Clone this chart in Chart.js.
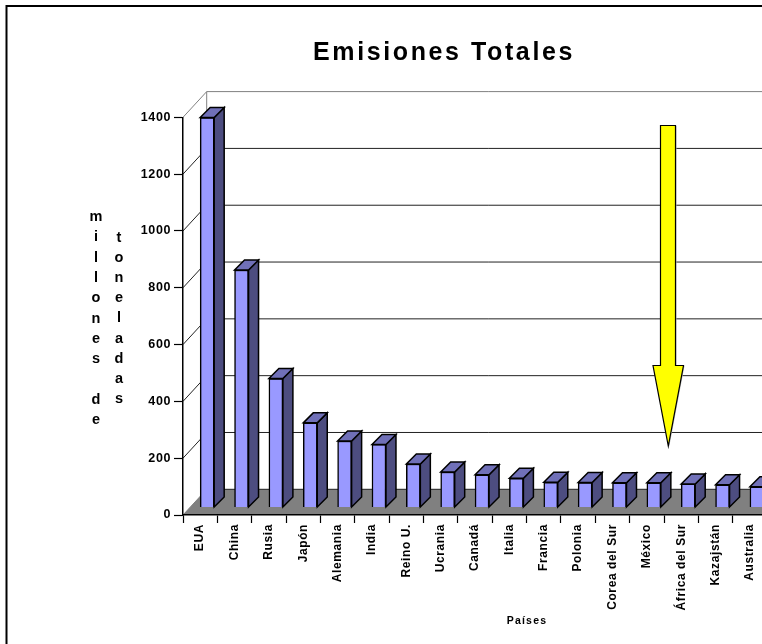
<!DOCTYPE html>
<html>
  <head>
    <title>Emisiones Totales</title>
    <script src="https://cdn.jsdelivr.net/npm/chart.js"></script>
    <style>
      html, body { margin: 0; padding: 0; background: #fff; overflow: hidden; }
      #wrap { width: 762px; height: 644px; overflow: hidden; }
      canvas { display: block; }
    </style>
  </head>
  <body>
    <div id="wrap"><canvas id="myChart" width="770" height="644"></canvas></div>
    <script>
      var paises = ["EUA", "China", "Rusia", "Japón", "Alemania", "India", "Reino U.", "Ucrania", "Canadá",
        "Italia", "Francia", "Polonia", "Corea del Sur", "México", "África del Sur", "Kazajstán", "Australia"];
      var emisiones = [1373, 836, 454, 298, 234, 222, 153, 125, 115, 103, 89, 88, 87, 87, 83, 80, 73];
      var yTicks = [0, 200, 400, 600, 800, 1000, 1200, 1400];
      var yTop = ["m", "i", "l", "l", "o", "n", "e", "s", "", "d", "e"];
      var yBottom = ["t", "o", "n", "e", "l", "a", "d", "a", "s"];

      var FONT = '"Liberation Sans", Arial, sans-serif';
      // wall depth, bar offset from the front plane, and the bar's own depth
      var wallX = 23.7, wallY = 25.7;
      var shiftX = 7, shiftY = 7.5;
      var barDepth = 10;

      function line(ctx, x1, y1, x2, y2) {
        ctx.beginPath();
        ctx.moveTo(x1, y1);
        ctx.lineTo(x2, y2);
        ctx.stroke();
      }

      function poly(ctx, pts, fill, stroke, width) {
        ctx.beginPath();
        pts.forEach(function (p, i) {
          if (i == 0) ctx.moveTo(p[0], p[1]);
          else ctx.lineTo(p[0], p[1]);
        });
        ctx.closePath();
        if (fill) {
          ctx.fillStyle = fill;
          ctx.fill();
        }
        if (stroke) {
          ctx.strokeStyle = stroke;
          ctx.lineWidth = width;
          ctx.lineJoin = "miter";
          ctx.stroke();
        }
      }

      function text(ctx, str, x, y, font, spacing) {
        ctx.save();
        ctx.font = font;
        ctx.letterSpacing = spacing + "px";
        ctx.fillStyle = "#000";
        ctx.textAlign = "center";
        ctx.textBaseline = "middle";
        ctx.fillText(str, x, y);
        ctx.restore();
      }

      var box3d = {
        id: "box3d",
        beforeDraw: function (chart) {
          var ctx = chart.ctx;
          var left = chart.chartArea.left, right = chart.chartArea.right + 10;
          var y = chart.scales.y;
          var y0 = y.getPixelForValue(0);
          var top = y.getPixelForValue(1400);

          // page frame, runs off the right and bottom edges
          ctx.save();
          ctx.strokeStyle = "#000";
          ctx.lineWidth = 2;
          ctx.strokeRect(6.5, 6, 900, 900);

          // floor
          poly(ctx, [[left, y0], [left + wallX, y0 - wallY], [right, y0 - wallY], [right, y0]], "#808080");

          // back wall and side wall lines
          ctx.lineWidth = 1;
          yTicks.forEach(function (v) {
            var py = y.getPixelForValue(v);
            ctx.strokeStyle = v == 1400 ? "#808080" : "#222";
            line(ctx, left + wallX, py - wallY, right, py - wallY);
            if (v > 0) line(ctx, left, py, left + wallX, py - wallY);
          });
          ctx.strokeStyle = "#808080";
          line(ctx, left + wallX, top - wallY, left + wallX, y0 - wallY);
          line(ctx, left, y0, left + wallX, y0 - wallY);
          ctx.restore();

          ctx.letterSpacing = "0.6px";
        },
        beforeDatasetsDraw: function (chart) {
          chart.ctx.save();
          chart.ctx.translate(shiftX, -shiftY);
        },
        afterDatasetsDraw: function (chart) {
          var ctx = chart.ctx;
          ctx.restore();
          chart.getDatasetMeta(0).data.forEach(function (bar) {
            var l = bar.x - bar.width / 2 + shiftX;
            var r = bar.x + bar.width / 2 + shiftX;
            var t = bar.y - shiftY;
            var b = bar.base - shiftY;
            var d = barDepth;
            poly(ctx, [[r, t], [r + d, t - d], [r + d, b - d], [r, b]], "#4D4D80", "#000", 1.5);
            poly(ctx, [[l, t], [l + d, t - d], [r + d, t - d], [r, t]], "#7070B8", "#000", 1.5);
          });
        },
        afterDraw: function (chart) {
          var ctx = chart.ctx;
          ctx.letterSpacing = "0px";

          text(ctx, "Emisiones Totales", 444, 53, "bold 25px " + FONT, 2.6);
          text(ctx, "Países", 527, 621, "bold 10.5px " + FONT, 1.2);
          yTop.forEach(function (c, i) {
            text(ctx, c, 96, 217 + i * 20.3, "bold 14.5px " + FONT, 0);
          });
          yBottom.forEach(function (c, i) {
            text(ctx, c, 119, 238 + i * 20.1, "bold 14.5px " + FONT, 0);
          });

          // yellow arrow with its thin shadow
          var arrow = [[660.5, 125.5], [675.5, 125.5], [675.5, 365.5], [683.5, 365.5], [668.3, 446],
            [653, 365.5], [660.5, 365.5]];
          var shadow = arrow.map(function (p) { return [p[0] + 1, p[1] + 0.5]; });
          poly(ctx, shadow, "#B8B8B8");
          poly(ctx, arrow, "#FFFF00", "#000", 1.2);
        },
      };

      var ctx = document.getElementById("myChart").getContext("2d");
      var myChart = new Chart(ctx, {
        type: "bar",
        data: {
          labels: paises,
          datasets: [{
            data: emisiones,
            backgroundColor: "#9999FF",
            borderColor: "#000",
            borderWidth: 1.5,
            barThickness: 14,
            clip: false,
          }],
        },
        options: {
          responsive: false,
          animation: false,
          events: [],
          layout: { padding: { top: 117.3, left: 0, right: 2.9, bottom: 29 } },
          plugins: { legend: { display: false }, title: { display: false }, tooltip: { enabled: false } },
          scales: {
            x: {
              offset: true,
              afterFit: function (scale) { scale.height = 100; },
              border: { display: true, color: "#000", width: 1.5 },
              grid: { offset: true, drawOnChartArea: false, color: "#000", tickLength: 8, tickWidth: 1.2 },
              ticks: {
                autoSkip: false,
                minRotation: 90,
                maxRotation: 90,
                padding: 1,
                color: "#000",
                font: { family: FONT, size: 12, weight: "bold" },
              },
            },
            y: {
              min: 0,
              max: 1400,
              afterFit: function (scale) { scale.width = 183; },
              afterBuildTicks: function (scale) {
                scale.ticks = yTicks.map(function (v) { return { value: v }; });
              },
              border: { display: true, color: "#000", width: 1.5 },
              grid: { drawOnChartArea: false, color: "#000", tickLength: 9, tickWidth: 1.2 },
              ticks: {
                padding: 3,
                color: "#000",
                font: { family: FONT, size: 12.5, weight: "bold" },
                callback: function (v) { return String(v); },
              },
            },
          },
        },
        plugins: [box3d],
      });
    </script>
  </body>
</html>
